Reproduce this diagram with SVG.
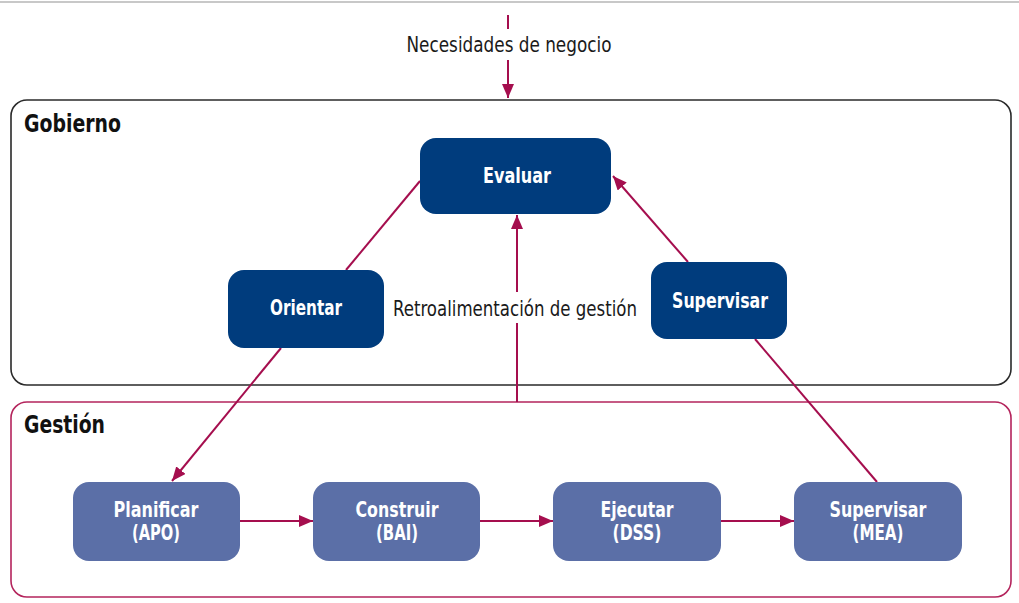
<svg xmlns="http://www.w3.org/2000/svg" width="1019" height="603" viewBox="0 0 1019 603">
<style>
.c{stroke:#a50e4e;stroke-width:2;fill:none}
.top{fill:#003c7d}
.bot{fill:#5b6fa7}
.nt{font-family:"DejaVu Sans Condensed","Liberation Sans",sans-serif;font-weight:bold;font-size:21px;fill:#ffffff;text-anchor:middle}
.lbl{font-family:"DejaVu Sans Condensed","Liberation Sans",sans-serif;font-size:21px;fill:#1a1a1a;text-anchor:middle}
.hd{font-family:"DejaVu Sans Condensed","Liberation Sans",sans-serif;font-weight:bold;font-size:25px;fill:#111111}
</style>
<defs>
<marker id="ah" markerWidth="14" markerHeight="12" refX="14" refY="6" orient="auto" markerUnits="userSpaceOnUse">
<path d="M0,0 L14,6 L0,12 Z" fill="#a50e4e"/>
</marker>
</defs>
<rect width="1019" height="603" fill="#ffffff"/>
<line x1="0" y1="2" x2="1019" y2="2" stroke="#c8c8c8" stroke-width="2"/>
<g id="gobierno">
<rect x="11" y="100" width="1000" height="285" rx="16" fill="none" stroke="#2a2a2a" stroke-width="1.6"/>
<text class="hd" x="24" y="132" textLength="97" lengthAdjust="spacingAndGlyphs">Gobierno</text>
</g>
<g id="gestion">
<rect x="11" y="402" width="1000" height="195" rx="16" fill="none" stroke="#b4245c" stroke-width="1.6"/>
<text class="hd" x="24" y="433" textLength="81" lengthAdjust="spacingAndGlyphs">Gestión</text>
</g>
<g id="connectors">
<line class="c" x1="508" y1="15" x2="508" y2="29"/>
<line class="c" x1="508" y1="60" x2="508" y2="98" marker-end="url(#ah)"/>
<line class="c" x1="346" y1="270" x2="420" y2="181"/>
<line class="c" x1="281" y1="348" x2="172" y2="481" marker-end="url(#ah)"/>
<line class="c" x1="877" y1="482" x2="755" y2="339"/>
<line class="c" x1="688" y1="262" x2="613" y2="176" marker-end="url(#ah)"/>
<line class="c" x1="517" y1="402" x2="517" y2="323"/>
<line class="c" x1="517" y1="292" x2="517" y2="215" marker-end="url(#ah)"/>
<line class="c" x1="240" y1="521" x2="313" y2="521" marker-end="url(#ah)"/>
<line class="c" x1="480" y1="521" x2="553" y2="521" marker-end="url(#ah)"/>
<line class="c" x1="721" y1="521" x2="794" y2="521" marker-end="url(#ah)"/>
</g>
<text class="lbl" x="509" y="52" textLength="205" lengthAdjust="spacingAndGlyphs">Necesidades de negocio</text>
<text class="lbl" x="515" y="316" textLength="244" lengthAdjust="spacingAndGlyphs">Retroalimentación de gestión</text>
<g id="evaluar">
<rect class="top" x="420" y="138" width="191" height="76" rx="16"/>
<text class="nt" x="517" y="183" textLength="68" lengthAdjust="spacingAndGlyphs">Evaluar</text>
</g>
<g id="orientar">
<rect class="top" x="228" y="270" width="156" height="78" rx="16"/>
<text class="nt" x="306" y="315" textLength="72" lengthAdjust="spacingAndGlyphs">Orientar</text>
</g>
<g id="supervisar-top">
<rect class="top" x="651" y="262" width="136" height="77" rx="16"/>
<text class="nt" x="720" y="308" textLength="96" lengthAdjust="spacingAndGlyphs">Supervisar</text>
</g>
<g id="planificar">
<rect class="bot" x="73" y="482" width="167" height="79" rx="16"/>
<text class="nt" x="156" y="517" textLength="85" lengthAdjust="spacingAndGlyphs">Planificar</text>
<text class="nt" x="156" y="540" textLength="48" lengthAdjust="spacingAndGlyphs">(APO)</text>
</g>
<g id="construir">
<rect class="bot" x="313" y="482" width="167" height="79" rx="16"/>
<text class="nt" x="397" y="517" textLength="83" lengthAdjust="spacingAndGlyphs">Construir</text>
<text class="nt" x="397" y="540" textLength="42" lengthAdjust="spacingAndGlyphs">(BAI)</text>
</g>
<g id="ejecutar">
<rect class="bot" x="553" y="482" width="168" height="79" rx="16"/>
<text class="nt" x="637" y="517" textLength="73" lengthAdjust="spacingAndGlyphs">Ejecutar</text>
<text class="nt" x="637" y="540" textLength="49" lengthAdjust="spacingAndGlyphs">(DSS)</text>
</g>
<g id="supervisar-mea">
<rect class="bot" x="794" y="482" width="168" height="79" rx="16"/>
<text class="nt" x="878" y="517" textLength="97" lengthAdjust="spacingAndGlyphs">Supervisar</text>
<text class="nt" x="878" y="540" textLength="51" lengthAdjust="spacingAndGlyphs">(MEA)</text>
</g>
</svg>
